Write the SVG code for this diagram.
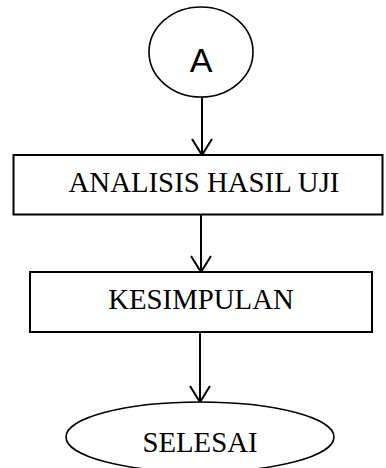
<svg xmlns="http://www.w3.org/2000/svg" width="386" height="468" viewBox="0 0 386 468">
<style>
.shape{fill:#fff;stroke:#000;stroke-width:1.6}
.box{fill:#fff;stroke:#000;stroke-width:2}
.conn{fill:none;stroke:#000;stroke-width:2}
.serif{font-family:"Liberation Serif","Times New Roman",serif;font-size:28.8px;fill:#000;text-anchor:middle}
.sans{font-family:"Liberation Sans",Arial,sans-serif;font-size:34px;fill:#000;text-anchor:middle}
</style>
<rect width="386" height="468" fill="#fff"/>
<g id="connectors">
<path class="conn" d="M202,97 V155 M192,139 L202,155 L212,139"/>
<path class="conn" d="M201,215 V272 M191,256 L201,272 L211,256"/>
<path class="conn" d="M200,332 V402 M190,386 L200,402 L210,386"/>
</g>
<g id="nodeA">
<ellipse class="shape" cx="201" cy="52" rx="52" ry="45"/>
<text class="sans" x="201" y="72">A</text>
</g>
<g id="analisis">
<rect class="box" x="13.5" y="155" width="369" height="59.5"/>
<text class="serif" x="204" y="192">ANALISIS HASIL UJI</text>
</g>
<g id="kesimpulan">
<rect class="box" x="30" y="272" width="342" height="60"/>
<text class="serif" x="201" y="309">KESIMPULAN</text>
</g>
<g id="selesai">
<ellipse class="shape" cx="200" cy="437" rx="134" ry="35"/>
<text class="serif" x="200" y="452">SELESAI</text>
</g>
</svg>
